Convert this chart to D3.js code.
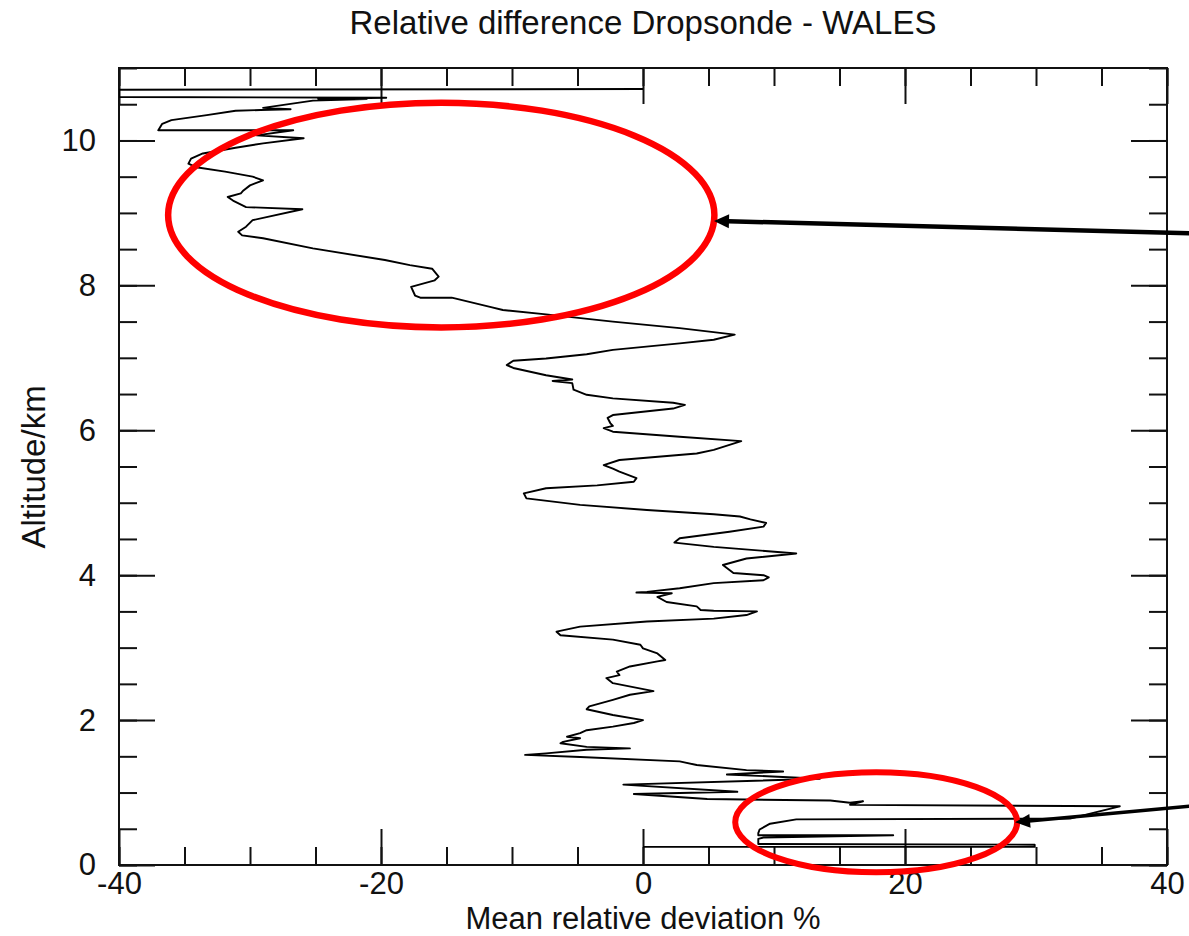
<!DOCTYPE html>
<html lang="en">
<head>
<meta charset="UTF-8"/>
<title>Relative difference Dropsonde - WALES</title>
<script src="https://d3js.org/d3.v7.min.js"></script>
<style>
	body { margin: 0; background: #fff; }
	svg { display: block; font-family: "Liberation Sans", Arial, Helvetica, sans-serif; }
</style>
</head>
<body>
<script>
	// profile from top to bottom (deviation in %, altitude in km)
	var deviation = [0, -40, -40, -19.6, -24.8, -21.1, -25.2, -29.0, -26.9, -29.2,
		-31.1, -33.3, -36.0, -36.7, -37.0, -26.7, -29.5, -25.9, -29.0, -31.1,
		-33.6, -34.5, -34.7, -34.1, -31.9, -29.8, -29.0, -30.0, -30.5, -30.7,
		-31.7, -31.3, -30.3, -26.0, -29.8, -30.3, -30.9, -30.6, -29.0, -25.2,
		-19.7, -17.8, -16.1, -15.6, -15.9, -17.7, -17.4, -17.0, -14.6, -11.6,
		-10.7, -7.4, -2.3, 2.8, 7.0, 5.4, 2.8, -2.3, -4.3, -7.4,
		-9.9, -10.4, -9.9, -7.4, -5.4, -6.9, -5.4, -5.3, -4.3, -2.3,
		2.3, 3.2, 2.3, -2.3, -2.7, -2.5, -2.3, -3.0, -2.3, 2.8,
		7.5, 5.4, 4.1, -1.8, -3.0, -2.3, -1.8, -0.5, -0.7, -3.5,
		-7.4, -9.1, -8.9, -4.8, 0.3, 5.4, 7.4, 8.2, 9.4, 9.2,
		6.6, 2.8, 2.4, 5.4, 11.7, 7.9, 6.1, 6.4, 6.9, 9.2,
		9.6, 9.2, 5.4, 2.8, 0.3, -0.5, 2.2, 1.1, 1.8, 4.1,
		4.4, 5.4, 8.7, 7.9, 5.4, 0.3, -4.8, -6.6, -6.3, -2.3,
		-0.2, 0.0, 1.1, 1.7, 1.1, -1.0, -2.0, -1.8, -2.8, -2.3,
		0.8, -1.0, -2.3, -4.1, -4.3, -2.3, 0.0, -0.7, -2.3, -4.3,
		-4.8, -5.8, -4.8, -6.1, -6.3, -4.3, -1.0, -4.3, -7.4, -9.0,
		-4.8, 2.8, 4.1, 7.9, 10.7, 6.4, 13.5, -1.5, 7.2, -0.7,
		4.9, 14.3, 15.8, 16.8, 15.8, 36.4, 34.6, 32.6, 11.7, 9.7,
		8.9, 8.8, 8.8, 19.1, 9.2, 8.8, 8.8, 29.9, 29.9, 0];

	var altitude = [10.71, 10.70, 10.60, 10.59, 10.575, 10.57, 10.55, 10.45, 10.43, 10.42,
		10.41, 10.35, 10.28, 10.23, 10.14, 10.14, 10.07, 10.03, 9.96, 9.90,
		9.82, 9.75, 9.68, 9.63, 9.57, 9.50, 9.45, 9.38, 9.31, 9.27,
		9.22, 9.17, 9.08, 9.05, 8.90, 8.81, 8.74, 8.69, 8.65, 8.51,
		8.35, 8.28, 8.23, 8.12, 8.07, 7.98, 7.86, 7.83, 7.83, 7.70,
		7.66, 7.60, 7.50, 7.41, 7.32, 7.25, 7.20, 7.11, 7.05, 6.99,
		6.96, 6.90, 6.86, 6.76, 6.70, 6.68, 6.65, 6.56, 6.49, 6.44,
		6.38, 6.35, 6.30, 6.21, 6.17, 6.10, 6.06, 6.03, 5.98, 5.91,
		5.85, 5.73, 5.68, 5.59, 5.52, 5.47, 5.43, 5.34, 5.29, 5.24,
		5.20, 5.13, 5.06, 4.97, 4.90, 4.84, 4.81, 4.77, 4.72, 4.67,
		4.60, 4.51, 4.45, 4.39, 4.30, 4.23, 4.14, 4.10, 4.03, 4.00,
		3.97, 3.93, 3.89, 3.82, 3.77, 3.76, 3.75, 3.70, 3.63, 3.57,
		3.52, 3.51, 3.50, 3.45, 3.40, 3.36, 3.29, 3.22, 3.17, 3.11,
		3.04, 2.99, 2.92, 2.83, 2.81, 2.74, 2.67, 2.62, 2.58, 2.51,
		2.40, 2.35, 2.28, 2.19, 2.15, 2.07, 2.00, 1.96, 1.91, 1.86,
		1.82, 1.77, 1.75, 1.70, 1.68, 1.63, 1.61, 1.59, 1.54, 1.52,
		1.49, 1.43, 1.38, 1.31, 1.29, 1.25, 1.19, 1.11, 1.01, 0.98,
		0.91, 0.89, 0.86, 0.88, 0.83, 0.81, 0.73, 0.64, 0.63, 0.57,
		0.49, 0.44, 0.41, 0.41, 0.38, 0.36, 0.29, 0.28, 0.25, 0.25];

	var xTicks = [-40, -20, 0, 20, 40];
	var xTickLabels = ["-40", "-20", "0", "20", "40"];
	var yTicks = [0, 2, 4, 6, 8, 10];
	var yTickLabels = ["0", "2", "4", "6", "8", "10"];

	// red ellipses drawn on the figure (data units)
	var ringCx = [-15.4, 17.8];
	var ringCy = [8.97, 0.59];
	var ringRx = [20.85, 10.76];
	var ringRy = [1.55, 0.69];

	// arrows coming in from the right edge (data units)
	var arrowFromX = [41.7, 41.7];
	var arrowFromY = [8.72, 0.81];
	var arrowToX = [5.42, 28.4];
	var arrowToY = [8.89, 0.59];

	var w = 1189;
	var h = 936;
	var padL = 119, padR = 1167, padT = 68, padB = 865;

	var xScale = d3.scaleLinear().domain([-40, 40]).range([padL, padR]);
	var yScale = d3.scaleLinear().domain([0, 11]).range([padB, padT]);

	var svg = d3.select("body").append("svg").attr("width", w).attr("height", h);

	svg.append("defs").append("clipPath").attr("id", "plotClip")
		.append("rect")
		.attr("x", padL).attr("y", padT)
		.attr("width", padR - padL).attr("height", padB - padT);

	// ticks: minor and major, all pointing inwards
	function tickAxes(axisFn, scale, pos, minorVals, majorVals, labels, pad) {
		var minor = axisFn(scale).tickValues(minorVals).tickSize(-18).tickFormat("");
		var major = axisFn(scale).tickValues(majorVals).tickSize(-36).tickPadding(pad)
			.tickFormat(function(d, i){ return labels ? labels[i] : ""; });
		[minor, major].forEach(function(ax){
			var g = svg.append("g").attr("transform", pos).call(ax);
			g.select(".domain").remove();
			g.selectAll("line").attr("stroke", "#111").attr("stroke-width", 2);
			g.selectAll("text").attr("font-size", 31).attr("fill", "#111")
				.attr("font-family", "Liberation Sans, Arial, sans-serif");
		});
	}

	var xMinor = d3.range(-40, 41, 5);
	var yMinor = d3.range(0, 11.01, 0.5);

	tickAxes(d3.axisBottom, xScale, "translate(0," + padB + ")", xMinor, xTicks, xTickLabels, 7);
	tickAxes(d3.axisTop, xScale, "translate(0," + padT + ")", xMinor, xTicks, null, 0);
	tickAxes(d3.axisLeft, yScale, "translate(" + padL + ",0)", yMinor, yTicks, yTickLabels, 23);
	tickAxes(d3.axisRight, yScale, "translate(" + padR + ",0)", yMinor, yTicks, null, 0);

	svg.append("rect")
		.attr("x", padL).attr("y", padT)
		.attr("width", padR - padL).attr("height", padB - padT)
		.attr("fill", "none").attr("stroke", "#111").attr("stroke-width", 2);

	// profile line
	var profile = d3.range(deviation.length).map(function(i){
		return [deviation[i], altitude[i]];
	});

	var line = d3.line()
		.x(function(d){ return xScale(d[0]); })
		.y(function(d){ return yScale(d[1]); });

	svg.append("path")
		.datum(profile)
		.attr("clip-path", "url(#plotClip)")
		.attr("d", line)
		.attr("fill", "none")
		.attr("stroke", "#000")
		.attr("stroke-width", 1.9)
		.attr("stroke-linejoin", "round");

	// titles
	svg.append("text")
		.attr("x", 643).attr("y", 34)
		.attr("text-anchor", "middle")
		.attr("font-size", 33)
		.attr("fill", "#111")
		.text("Relative difference Dropsonde - WALES");

	svg.append("text")
		.attr("x", 643).attr("y", 929)
		.attr("text-anchor", "middle")
		.attr("font-size", 31)
		.attr("fill", "#111")
		.text("Mean relative deviation %");

	svg.append("text")
		.attr("transform", "translate(45,467) rotate(-90)")
		.attr("text-anchor", "middle")
		.attr("font-size", 33)
		.attr("fill", "#111")
		.text("Altitude/km");

	// annotations
	var ringWidths = [6.5, 6];
	ringCx.forEach(function(cx, i){
		svg.append("ellipse")
			.attr("cx", xScale(cx))
			.attr("cy", yScale(ringCy[i]))
			.attr("rx", xScale(cx + ringRx[i]) - xScale(cx))
			.attr("ry", yScale(ringCy[i]) - yScale(ringCy[i] + ringRy[i]))
			.attr("fill", "none")
			.attr("stroke", "#ff0000")
			.attr("stroke-width", ringWidths[i]);
	});

	var arrowWidths = [4.5, 3.5];
	arrowFromX.forEach(function(fx, i){
		var x1 = xScale(fx), y1 = yScale(arrowFromY[i]);
		var x2 = xScale(arrowToX[i]), y2 = yScale(arrowToY[i]);
		var ang = Math.atan2(y2 - y1, x2 - x1);
		var headLen = 15, headHalf = 7;
		var bx = x2 - headLen * Math.cos(ang), by = y2 - headLen * Math.sin(ang);

		svg.append("line")
			.attr("x1", x1).attr("y1", y1)
			.attr("x2", bx + Math.cos(ang)).attr("y2", by + Math.sin(ang))
			.attr("stroke", "#000")
			.attr("stroke-width", arrowWidths[i]);

		var px = -Math.sin(ang), py = Math.cos(ang);
		svg.append("path")
			.attr("d", "M" + x2 + "," + y2 +
				"L" + (bx + px * headHalf) + "," + (by + py * headHalf) +
				"L" + (bx - px * headHalf) + "," + (by - py * headHalf) + "Z")
			.attr("fill", "#000");
	});
</script>
</body>
</html>
